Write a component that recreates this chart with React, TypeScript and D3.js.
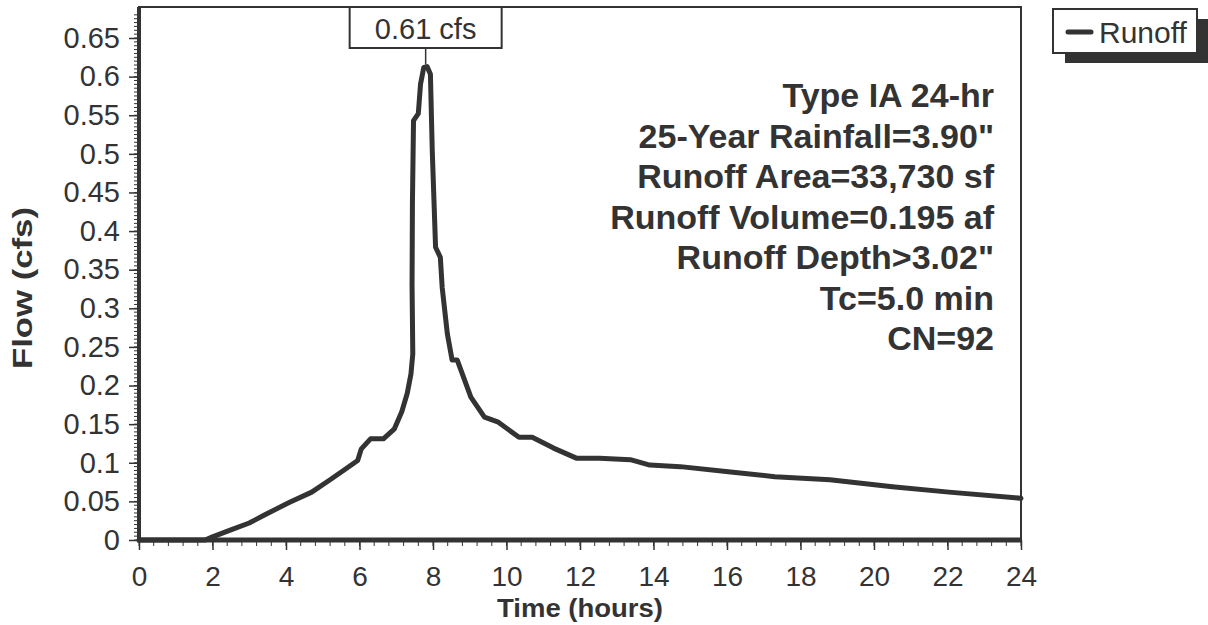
import React, { useRef, useEffect } from 'react'
import * as d3 from 'd3'

// hydrograph: [hours, cfs]
const runoff: [number, number][] = [
  [0, 0], [1.8, 0], [2.0, 0.004], [2.5, 0.013], [3.0, 0.022], [3.4, 0.032],
  [4.1, 0.049], [4.7, 0.062], [5.2, 0.078], [5.65, 0.093], [5.95, 0.103],
  [6.05, 0.118], [6.3, 0.131], [6.65, 0.131], [6.95, 0.144], [7.15, 0.166],
  [7.3, 0.19], [7.4, 0.215], [7.45, 0.241], [7.43, 0.33], [7.44, 0.435],
  [7.47, 0.543], [7.6, 0.552], [7.66, 0.59], [7.75, 0.612], [7.84, 0.613],
  [7.93, 0.603], [7.98, 0.504], [8.07, 0.379], [8.2, 0.366], [8.25, 0.327],
  [8.39, 0.267], [8.52, 0.233], [8.66, 0.233], [9.03, 0.185], [9.4, 0.159],
  [9.76, 0.153], [10.34, 0.133], [10.7, 0.133], [11.28, 0.119], [11.9, 0.106],
  [12.53, 0.106], [13.37, 0.104], [13.9, 0.097], [14.73, 0.095], [16.1, 0.088],
  [17.3, 0.082], [18.8, 0.078], [20.5, 0.069], [22.04, 0.062], [24, 0.054],
]

const yTicks = [0, 0.05, 0.1, 0.15, 0.2, 0.25, 0.3, 0.35, 0.4, 0.45, 0.5, 0.55, 0.6, 0.65]
const xTicks = [0, 2, 4, 6, 8, 10, 12, 14, 16, 18, 20, 22, 24]

const notes = [
  'Type IA 24-hr',
  '25-Year Rainfall=3.90"',
  'Runoff Area=33,730 sf',
  'Runoff Volume=0.195 af',
  'Runoff Depth>3.02"',
  'Tc=5.0 min',
  'CN=92',
]

const peak = { t: 7.8, v: 0.613, label: '0.61 cfs' }
const seriesName = 'Runoff'

const INK = '#333'
const FONT = 'Liberation Sans, Arial, Helvetica, sans-serif'

export default function App() {
  const svgRef = useRef<SVGSVGElement>(null)

  useEffect(() => {
    if (!svgRef.current) return
    const width = 1208
    const height = 625
    const svg = d3.select(svgRef.current)
    svg.attr('width', width).attr('height', height)
    svg.selectAll('*').remove()

    const left = 139, right = 1021, top = 7, bottom = 540

    const x = d3.scaleLinear().domain([0, 24]).range([left, right])
    const y = d3.scaleLinear().domain([0, 0.65]).range([bottom, 38])

    svg.append('rect').attr('width', width).attr('height', height).attr('fill', '#fff')

    // frame
    svg.append('rect')
      .attr('x', left).attr('y', top)
      .attr('width', right - left).attr('height', bottom - top)
      .attr('fill', 'none').attr('stroke', INK).attr('stroke-width', 2)

    // minor ticks
    const yMinor = d3.range(0, 0.6801, 0.005)
    svg.append('g').selectAll('line').data(yMinor).join('line')
      .attr('x1', left - 5).attr('x2', left)
      .attr('y1', d => y(d)).attr('y2', d => y(d))
      .attr('stroke', INK).attr('stroke-width', 1)

    const xMinor = d3.range(0, 24.001, 0.4)
    svg.append('g').selectAll('line').data(xMinor).join('line')
      .attr('x1', d => x(d)).attr('x2', d => x(d))
      .attr('y1', bottom).attr('y2', bottom + 6)
      .attr('stroke', INK).attr('stroke-width', 1)

    // y axis
    svg.append('g')
      .attr('transform', `translate(${left},0)`)
      .call(d3.axisLeft(y).tickValues(yTicks).tickSize(10).tickPadding(9)
        .tickFormat(d => String(+(+d).toFixed(2))))
      .call(g => g.select('.domain').remove())
      .call(g => g.selectAll('line').attr('stroke', INK).attr('stroke-width', 1.5))
      .call(g => g.selectAll('text').attr('fill', INK).style('font-family', FONT).style('font-size', '29px'))

    // x axis
    svg.append('g')
      .attr('transform', `translate(0,${bottom})`)
      .call(d3.axisBottom(x).tickValues(xTicks).tickSize(10).tickPadding(16))
      .call(g => g.select('.domain').remove())
      .call(g => g.selectAll('line').attr('stroke', INK).attr('stroke-width', 1.5))
      .call(g => g.selectAll('text').attr('fill', INK).style('font-family', FONT).style('font-size', '28px'))

    // heavy axis lines
    svg.append('line').attr('x1', left).attr('x2', left).attr('y1', top).attr('y2', bottom + 2)
      .attr('stroke', INK).attr('stroke-width', 4)
    svg.append('line').attr('x1', left - 2).attr('x2', right).attr('y1', bottom).attr('y2', bottom)
      .attr('stroke', INK).attr('stroke-width', 5)

    // axis titles
    svg.append('text')
      .attr('x', 580).attr('y', 617)
      .attr('text-anchor', 'middle').attr('fill', INK)
      .attr('textLength', 166).attr('lengthAdjust', 'spacingAndGlyphs')
      .style('font-family', FONT).style('font-size', '26px').style('font-weight', 'bold')
      .text('Time  (hours)')
    svg.append('text')
      .attr('transform', `translate(32,288) rotate(-90)`)
      .attr('text-anchor', 'middle').attr('fill', INK)
      .attr('textLength', 162).attr('lengthAdjust', 'spacingAndGlyphs')
      .style('font-family', FONT).style('font-size', '28px').style('font-weight', 'bold')
      .text('Flow  (cfs)')

    // curve
    const line = d3.line<[number, number]>().x(d => x(d[0])).y(d => y(d[1]))
    svg.append('path').datum(runoff).attr('d', line)
      .attr('fill', 'none').attr('stroke', INK).attr('stroke-width', 5)
      .attr('stroke-linejoin', 'round').attr('stroke-linecap', 'round')

    // notes
    const ng = svg.append('g')
    notes.forEach((s, i) => {
      ng.append('text')
        .attr('x', 994).attr('y', 107 + i * 40.5)
        .attr('text-anchor', 'end').attr('fill', INK)
        .style('font-family', FONT).style('font-size', '34px').style('font-weight', 'bold')
        .text(s)
    })

    // peak label
    const px = x(peak.t)
    svg.append('line').attr('x1', px).attr('x2', px).attr('y1', 48).attr('y2', y(peak.v) - 2)
      .attr('stroke', INK).attr('stroke-width', 1.5)
    svg.append('rect').attr('x', px - 76).attr('y', top).attr('width', 152).attr('height', 41)
      .attr('fill', '#fff').attr('stroke', INK).attr('stroke-width', 2)
    svg.append('text').attr('x', px).attr('y', 39)
      .attr('text-anchor', 'middle').attr('fill', INK)
      .style('font-family', FONT).style('font-size', '29px')
      .text(peak.label)

    // legend
    svg.append('rect').attr('x', 1065).attr('y', 19).attr('width', 150).attr('height', 44).attr('fill', INK)
    svg.append('rect').attr('x', 1053).attr('y', 9).attr('width', 144).attr('height', 44)
      .attr('fill', '#fff').attr('stroke', INK).attr('stroke-width', 2)
    svg.append('line').attr('x1', 1068).attr('x2', 1091).attr('y1', 32).attr('y2', 32)
      .attr('stroke', INK).attr('stroke-width', 5).attr('stroke-linecap', 'round')
    svg.append('text').attr('x', 1099).attr('y', 43).attr('fill', INK)
      .style('font-family', FONT).style('font-size', '30px')
      .text(seriesName)
  }, [])

  return (
    <div style={{ position: 'absolute', left: 0, top: 0 }}>
      <svg ref={svgRef} style={{ display: 'block' }} />
    </div>
  )
}
